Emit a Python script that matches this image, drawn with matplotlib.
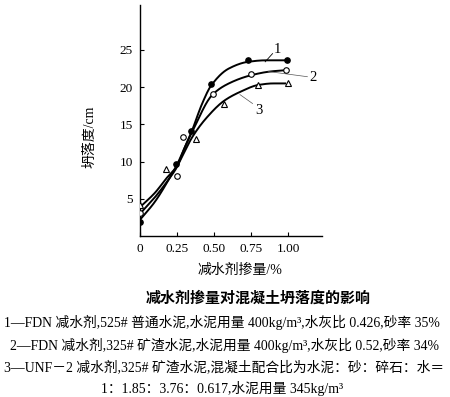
import numpy as np
import matplotlib
matplotlib.use('Agg')
from matplotlib import pyplot as plt

plt.rcParams['font.family'] = ['Liberation Serif', 'Noto Sans CJK SC']

x1 = [0, 0.244, 0.345, 0.48, 0.73, 0.99]
y1 = [1.9, 9.7, 14.1, 20.4, 23.6, 23.6]
x2 = [0, 0.248, 0.293, 0.49, 0.747, 0.984]
y2 = [3.1, 8.1, 13.3, 19.1, 21.7, 22.3]
x3 = [0, 0.176, 0.38, 0.57, 0.797, 1.0]
y3 = [4.2, 9.0, 13.0, 17.7, 20.3, 20.6]

# 拟合曲线经过的位置
cx1 = [0, 0.1, 0.2, 0.25, 0.3, 0.35, 0.42, 0.48, 0.6, 0.73, 0.85, 1.0]
cy1 = [2.2, 4.6, 7.8, 9.6, 11.8, 14.1, 17.8, 20.2, 22.5, 23.4, 23.6, 23.6]
cx2 = [0, 0.1, 0.2, 0.25, 0.3, 0.35, 0.49, 0.6, 0.75, 0.88, 1.0]
cy2 = [3.0, 5.2, 7.8, 9.3, 11.8, 13.9, 19.0, 20.5, 21.6, 22.1, 22.3]
cx3 = [0, 0.1, 0.18, 0.25, 0.3, 0.35, 0.45, 0.57, 0.68, 0.8, 0.9, 0.98]
cy3 = [3.9, 5.8, 7.8, 9.4, 11.3, 13.2, 15.9, 18.2, 19.4, 20.3, 20.5, 20.5]

xticks = [0, 0.25, 0.5, 0.75, 1.0]
xtick_labels = ['0', '0.25', '0.50', '0.75', '1.00']
yticks = [5, 10, 15, 20, 25]

notes = ['1—FDN 减水剂,525# 普通水泥,水泥用量 400kg/m³,水灰比 0.426,砂率 35%',
         '2—FDN 减水剂,325# 矿渣水泥,水泥用量 400kg/m³,水灰比 0.52,砂率 34%',
         '3—UNF－2 减水剂,325# 矿渣水泥,混凝土配合比为水泥：砂：碎石：水＝',
         '1：1.85：3.76：0.617,水泥用量 345kg/m³']


def pchip(xs, ys, n=200):
    # 单调三次插值，用来画平滑曲线
    xs = np.asarray(xs, float)
    ys = np.asarray(ys, float)
    h = np.diff(xs)
    d = np.diff(ys) / h
    m = np.zeros_like(ys)
    for k in range(1, len(xs) - 1):
        if d[k - 1] * d[k] > 0:
            w1 = 2 * h[k] + h[k - 1]
            w2 = h[k] + 2 * h[k - 1]
            m[k] = (w1 + w2) / (w1 / d[k - 1] + w2 / d[k])
    m[0] = d[0]
    m[-1] = d[-1]
    xx = np.linspace(xs[0], xs[-1], n)
    idx = np.clip(np.searchsorted(xs, xx) - 1, 0, len(xs) - 2)
    t = (xx - xs[idx]) / h[idx]
    h00 = 2 * t ** 3 - 3 * t ** 2 + 1
    h10 = t ** 3 - 2 * t ** 2 + t
    h01 = -2 * t ** 3 + 3 * t ** 2
    h11 = t ** 3 - t ** 2
    yy = h00 * ys[idx] + h10 * h[idx] * m[idx] + h01 * ys[idx + 1] + h11 * h[idx] * m[idx + 1]
    return xx, yy


fig = plt.figure(figsize=(4.5, 3.97), dpi=100)
ax = fig.add_axes([0.311, 0.405, 0.405, 0.582])

for cx, cy in [(cx1, cy1), (cx2, cy2), (cx3, cy3)]:
    xx, yy = pchip(cx, cy)
    ax.plot(xx, yy, color='black', lw=1.4, zorder=2)

ax.plot(x1, y1, 'o', color='black', ms=3.8, zorder=3)
ax.plot(x2, y2, 'o', mfc='white', mec='black', mew=0.8, ms=4, zorder=3)
ax.plot(x3, y3, '^', mfc='white', mec='black', mew=0.8, ms=5, zorder=3)

# 曲线编号及引线
ax.plot([0.845, 0.895], [23.4, 24.5], color='black', lw=0.6)
ax.text(0.93, 25.1, '1', fontsize=10.5, ha='center', va='center')
ax.plot([0.865, 1.13], [22.1, 21.4], color='#555555', lw=0.5)
ax.text(1.17, 21.3, '2', fontsize=10.5, ha='center', va='center')
ax.plot([0.675, 0.76], [19.0, 17.8], color='#555555', lw=0.5)
ax.text(0.80, 16.9, '3', fontsize=10.5, ha='center', va='center')

ax.set_xlim(0, 1.23)
ax.set_ylim(0, 31)
ax.set_xticks(xticks)
ax.set_xticklabels(xtick_labels)
ax.set_yticks(yticks)
ax.tick_params(direction='in', length=3, width=0.8, labelsize=9.5, pad=5)
ax.spines['top'].set_visible(False)
ax.spines['right'].set_visible(False)
for s in ['left', 'bottom']:
    ax.spines[s].set_linewidth(1.0)

fig.text(0.2, 1 - 137 / 397, '坍落度/cm', rotation=90, ha='center', va='center', fontsize=10)
fig.text(240 / 450, 1 - 270 / 397, '减水剂掺量/%', ha='center', va='center', fontsize=10)
fig.text(258 / 450, 1 - 298 / 397, '减水剂掺量对混凝土坍落度的影响', ha='center', va='center',
         fontsize=10.8, fontweight='bold')
note_y = [322, 345, 367, 388]
note_x = [222, 224, 224, 222]
for t, yy, xc in zip(notes, note_y, note_x):
    fig.text(xc / 450, 1 - yy / 397, t, ha='center', va='center', fontsize=9.9)

fig.savefig('out.png', dpi=100)
